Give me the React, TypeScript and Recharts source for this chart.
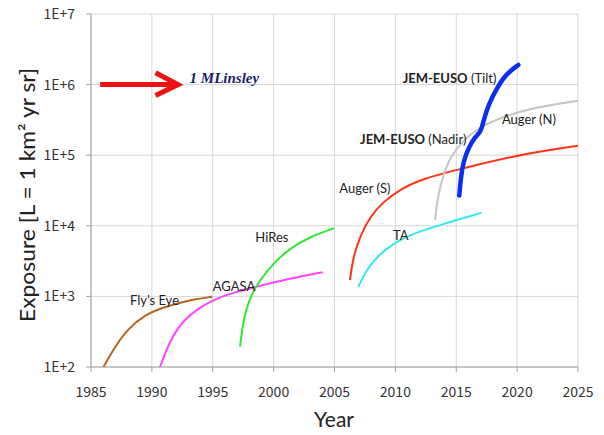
import React from 'react';
import { LineChart, Line, XAxis, YAxis, CartesianGrid, ReferenceDot, Label } from 'recharts';

const yearTicks = [1985, 1990, 1995, 2000, 2005, 2010, 2015, 2020, 2025];
const exposureTicks = [1e2, 1e3, 1e4, 1e5, 1e6, 1e7];

const flysEye = [
  { x: 1986.01, y: 99 }, { x: 1986.97, y: 194 }, { x: 1988.06, y: 353 }, { x: 1989.44, y: 546 },
  { x: 1990.81, y: 692 }, { x: 1992.45, y: 825 }, { x: 1993.54, y: 910 }, { x: 1994.96, y: 991 },
];
const agasa = [
  { x: 1990.67, y: 100 }, { x: 1991.49, y: 241 }, { x: 1992.58, y: 463 }, { x: 1993.95, y: 701 },
  { x: 1995.32, y: 940 }, { x: 1996.69, y: 1127 }, { x: 1998.61, y: 1374 }, { x: 2000.79, y: 1708 },
  { x: 2004.03, y: 2193 },
];
const hires = [
  { x: 1997.24, y: 194 }, { x: 1997.51, y: 463 }, { x: 1998.06, y: 991 }, { x: 1998.88, y: 1706 },
  { x: 1999.97, y: 2944 }, { x: 2001.34, y: 4797 }, { x: 2002.99, y: 7010 }, { x: 2004.96, y: 9226 },
];
const augerS = [
  { x: 2006.27, y: 1706 }, { x: 2006.54, y: 3648 }, { x: 2007.09, y: 7010 }, { x: 2007.91, y: 13460 },
  { x: 2009.01, y: 21950 }, { x: 2010.38, y: 32860 }, { x: 2012.29, y: 47100 }, { x: 2015.58, y: 65200 },
  { x: 2019.96, y: 100700 }, { x: 2025.0, y: 136000 },
];
const ta = [
  { x: 2006.95, y: 1371 }, { x: 2007.64, y: 2366 }, { x: 2008.47, y: 3648 }, { x: 2009.83, y: 5650 },
  { x: 2011.47, y: 7830 }, { x: 2013.66, y: 10260 }, { x: 2017.09, y: 15350 },
];
const augerN = [
  { x: 2013.25, y: 12080 }, { x: 2013.53, y: 28840 }, { x: 2013.94, y: 52500 }, { x: 2014.49, y: 94400 },
  { x: 2015.58, y: 164000 }, { x: 2016.95, y: 253500 }, { x: 2018.87, y: 351000 }, { x: 2021.06, y: 461000 },
  { x: 2025.0, y: 592000 },
];
const jemEuso = [
  { x: 2015.25, y: 26860 }, { x: 2015.37, y: 47100 }, { x: 2015.58, y: 80900 }, { x: 2015.99, y: 125300 },
  { x: 2016.54, y: 182800 }, { x: 2017.01, y: 211000 }, { x: 2017.22, y: 298000 }, { x: 2017.63, y: 514000 },
  { x: 2018.32, y: 887000 }, { x: 2019.14, y: 1446000 }, { x: 2020.1, y: 1896000 },
];
const arrowShaft = [{ x: 1985.75, y: 1e6 }, { x: 1991.9, y: 1e6 }];
const arrowHead = [{ x: 1990.3, y: 1.47e6 }, { x: 1992.15, y: 1e6 }, { x: 1990.3, y: 7.0e5 }];

const labels = [
  { x: 1988.2, y: 890, bold: '', text: 'Fly\u2019s Eye' },
  { x: 1995.0, y: 1410, bold: '', text: 'AGASA' },
  { x: 1998.5, y: 6900, bold: '', text: 'HiRes' },
  { x: 2005.4, y: 34300, bold: '', text: 'Auger (S)' },
  { x: 2009.8, y: 7400, bold: '', text: 'TA' },
  { x: 2007.1, y: 170000, bold: 'JEM-EUSO', text: ' (Nadir)' },
  { x: 2010.6, y: 1240000, bold: 'JEM-EUSO', text: ' (Tilt)' },
  { x: 2018.75, y: 326000, bold: '', text: 'Auger (N)' },
];
const linsley = { x: 1993.1, y: 1240000, text: '1 MLinsley' };
const yTitle = 'Exposure [L = 1 km\u00B2 yr sr]';
const xTitle = 'Year';

const labelFont = 'Lato, "Open Sans", sans-serif';
const tickFont = '"Noto Sans CJK JP", "DejaVu Sans", sans-serif';

export default function App() {
  return (
    <div style={{ position: 'absolute', left: 0, top: 0, width: 604, height: 435, background: '#fff' }}>
      <LineChart width={604} height={435} margin={{ top: 14, right: 26, bottom: 38, left: 31 }}>
        <CartesianGrid stroke="#d6d6d6" strokeWidth={1} />
        <XAxis
          type="number"
          dataKey="x"
          domain={[1985, 2025]}
          ticks={yearTicks}
          allowDataOverflow
          height={30}
          stroke="#a0a0a0"
          tickSize={5}
          tickMargin={15}
          tick={{ fill: '#333', fontSize: 14, fontFamily: tickFont }}
        >
          <Label
            content={() => (
              <text x={334} y={418} textAnchor="middle" dominantBaseline="central" fontFamily={labelFont} fontSize={21} fill="#222">
                {xTitle}
              </text>
            )}
          />
        </XAxis>
        <YAxis
          type="number"
          dataKey="y"
          scale="log"
          domain={[100, 1e7]}
          ticks={exposureTicks}
          allowDataOverflow
          width={60}
          stroke="#a0a0a0"
          tickSize={5}
          tickMargin={11}
          tickFormatter={(v: number) => `1E+${Math.round(Math.log10(v))}`}
          tick={{ fill: '#333', fontSize: 14, fontFamily: tickFont }}
        >
          <Label
            content={() => (
              <text
                x={26}
                y={322}
                transform="rotate(-90 26 322)"
                textAnchor="start"
                dominantBaseline="central"
                textLength={254}
                lengthAdjust="spacingAndGlyphs"
                fontFamily={labelFont}
                fontSize={21}
                fill="#222"
              >
                {yTitle}
              </text>
            )}
          />
        </YAxis>
        <Line data={flysEye} dataKey="y" type="basis" stroke="#b5651d" strokeWidth={2} dot={false} isAnimationActive={false} />
        <Line data={agasa} dataKey="y" type="basis" stroke="#ff44ff" strokeWidth={2} dot={false} isAnimationActive={false} />
        <Line data={hires} dataKey="y" type="basis" stroke="#33e633" strokeWidth={2} dot={false} isAnimationActive={false} />
        <Line data={augerS} dataKey="y" type="basis" stroke="#ff3311" strokeWidth={2} dot={false} isAnimationActive={false} />
        <Line data={ta} dataKey="y" type="basis" stroke="#33e8ee" strokeWidth={2} dot={false} isAnimationActive={false} />
        <Line data={augerN} dataKey="y" type="basis" stroke="#c4c4c4" strokeWidth={2} dot={false} isAnimationActive={false} />
        <Line data={jemEuso} dataKey="y" type="basis" stroke="#0a2ef2" strokeWidth={4.5} strokeLinecap="round" dot={false} isAnimationActive={false} />
        <Line data={arrowShaft} dataKey="y" type="linear" stroke="#ee1111" strokeWidth={5} dot={false} isAnimationActive={false} />
        <Line data={arrowHead} dataKey="y" type="linear" stroke="#ee1111" strokeWidth={5} strokeLinejoin="miter" dot={false} isAnimationActive={false} />
        {labels.map((l, i) => (
          <ReferenceDot
            key={i}
            x={l.x}
            y={l.y}
            r={0}
            ifOverflow="visible"
            shape={(p: any) => (
              <text x={p.cx} y={p.cy} dominantBaseline="central" fontFamily={labelFont} fontSize={13} fill="#222">
                {l.bold ? <tspan fontWeight="bold">{l.bold}</tspan> : null}
                {l.text}
              </text>
            )}
          />
        ))}
        <ReferenceDot
          x={linsley.x}
          y={linsley.y}
          r={0}
          ifOverflow="visible"
          shape={(p: any) => (
            <text
              x={p.cx}
              y={p.cy}
              dominantBaseline="central"
              fontFamily='"Liberation Serif", "Times New Roman", serif'
              fontWeight="bold"
              fontStyle="italic"
              fontSize={15}
              fill="#1c1c6b"
            >
              {linsley.text}
            </text>
          )}
        />
      </LineChart>
    </div>
  );
}
